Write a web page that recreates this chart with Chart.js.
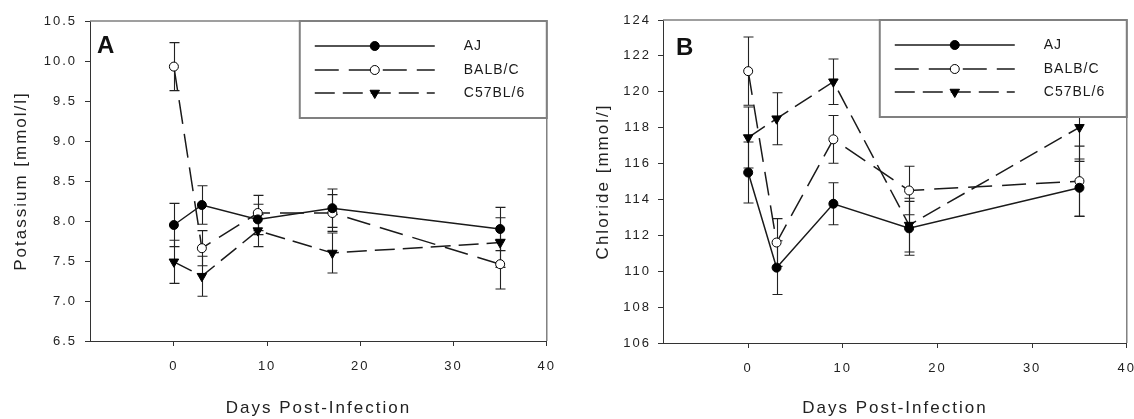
<!DOCTYPE html>
<html lang="en">
<head>
<meta charset="UTF-8">
<title>Potassium and Chloride after infection</title>
<script src="https://cdn.jsdelivr.net/npm/chart.js"></script>
<style>
  body { margin: 0; background: #fff; width: 1134px; height: 419px; overflow: hidden; position: relative; }
  #left { position: absolute; left: 0; top: 0; }
  #right { position: absolute; left: 567px; top: 0; }
</style>
</head>
<body>
<canvas id="left" width="567" height="419"></canvas>
<canvas id="right" width="580" height="419"></canvas>
<script>
// sampling days (x) and strain names
const days = [0, 3, 9, 17, 35];
const strains = ['AJ', 'BALB/C', 'C57BL/6'];

// potassium, mmol/l (mean and error)
const kAJ = [7.95, 8.20, 8.02, 8.16, 7.90];
const kAJErr = [0.27, 0.24, 0.19, 0.24, 0.27];
const kBALB = [9.93, 7.66, 8.10, 8.10, 7.46];
const kBALBErr = [0.30, 0.22, 0.22, 0.23, 0.31];
const kC57 = [7.49, 7.31, 7.88, 7.60, 7.73];
const kC57Err = [0.27, 0.25, 0.20, 0.25, 0.31];

// chloride, mmol/l
const clAJ = [115.5, 110.2, 113.76, 112.39, 114.65];
const clAJErr = [1.7, 1.5, 1.17, 1.5, 1.6];
const clBALB = [121.15, 111.6, 117.35, 114.5, 115.02];
const clBALBErr = [1.9, 1.33, 1.33, 1.35, 1.95];
const clC57 = [117.45, 118.5, 120.56, 112.57, 118.02];
const clC57Err = [1.7, 1.45, 1.27, 1.5, 1.9];

const FONT = "'Liberation Sans', Arial, sans-serif";
const INK = '#1a1a1a';

const styles = [
    {dash: [], point: 'circle', fill: '#000', radius: 4.5, rotation: 0},
    {dash: [24, 10], point: 'circle', fill: '#fff', radius: 4.5, rotation: 0},
    {dash: [20, 8], point: 'triangle', fill: '#000', radius: 5.5, rotation: 180}
];

// error bars, frame, legend box and panel letter
const panelDecor = {
    id: 'panelDecor',
    beforeDraw(chart) {
        chart.ctx.letterSpacing = '2px';
    },
    beforeDatasetsDraw(chart, args, opts) {
        const ctx = chart.ctx;
        const xs = chart.scales.x, ys = chart.scales.y;
        ctx.save();
        ctx.strokeStyle = '#222';
        ctx.lineWidth = 1.1;
        chart.data.datasets.forEach((ds, i) => {
            const errs = opts.errors[i];
            ds.data.forEach((p, j) => {
                const x = Math.round(xs.getPixelForValue(p.x)) + 0.5;
                const top = ys.getPixelForValue(p.y + errs[j]);
                const bot = ys.getPixelForValue(p.y - errs[j]);
                ctx.beginPath();
                ctx.moveTo(x, top); ctx.lineTo(x, bot);
                ctx.moveTo(x - 5, top); ctx.lineTo(x + 5, top);
                ctx.moveTo(x - 5, bot); ctx.lineTo(x + 5, bot);
                ctx.stroke();
            });
        });
        ctx.restore();
    },
    afterDatasetsDraw(chart, args, opts) {
        const ctx = chart.ctx;
        const a = chart.chartArea;
        ctx.save();
        // top and right frame
        ctx.strokeStyle = '#808080';
        ctx.lineWidth = 1.5;
        ctx.beginPath();
        ctx.moveTo(a.left, a.top); ctx.lineTo(a.right, a.top); ctx.lineTo(a.right, a.bottom);
        ctx.stroke();

        // legend box
        const bx = a.right - 247, by = a.top, bw = 247, bh = 97;
        ctx.fillStyle = '#fff';
        ctx.fillRect(bx, by, bw, bh);
        ctx.strokeStyle = '#808080';
        ctx.lineWidth = 2;
        ctx.strokeRect(bx, by, bw, bh);
        ctx.letterSpacing = '1px';
        ctx.font = '14px ' + FONT;
        ctx.textBaseline = 'middle';
        const rows = [25, 49, 72];
        strains.forEach((name, i) => {
            const st = styles[i];
            const y = by + rows[i];
            ctx.strokeStyle = INK;
            ctx.lineWidth = 1.5;
            ctx.setLineDash(st.dash);
            ctx.beginPath();
            ctx.moveTo(a.right - 232, y); ctx.lineTo(a.right - 112, y);
            ctx.stroke();
            ctx.setLineDash([]);
            ctx.fillStyle = st.fill;
            ctx.strokeStyle = '#000';
            ctx.lineWidth = 1;
            Chart.helpers.drawPoint(ctx, {pointStyle: st.point, radius: st.radius, rotation: st.rotation, borderWidth: 1}, a.right - 172, y);
            ctx.fillStyle = INK;
            ctx.fillText(name, a.right - 83, y);
        });

        // panel letter
        ctx.letterSpacing = '0px';
        ctx.font = 'bold 24px ' + FONT;
        ctx.textBaseline = 'alphabetic';
        ctx.fillStyle = '#111';
        ctx.fillText(opts.letter, a.left + opts.letterDx, opts.letterY);
        ctx.restore();
    }
};

function makeDatasets(series) {
    return series.map((vals, i) => ({
        label: strains[i],
        data: days.map((d, j) => ({x: d, y: vals[j]})),
        borderColor: INK,
        borderWidth: 1.5,
        borderDash: styles[i].dash,
        pointStyle: styles[i].point,
        pointRadius: styles[i].radius,
        pointRotation: styles[i].rotation,
        pointBackgroundColor: styles[i].fill,
        pointBorderColor: '#000',
        pointBorderWidth: 1,
        tension: 0
    }));
}

function makeChart(id, o) {
    return new Chart(document.getElementById(id), {
        type: 'line',
        data: {datasets: makeDatasets(o.series)},
        plugins: [panelDecor],
        options: {
            responsive: false,
            animation: false,
            layout: {padding: {left: 0, top: o.top, right: o.right, bottom: 0}},
            plugins: {
                legend: {display: false},
                tooltip: {enabled: false},
                panelDecor: {errors: o.errors, letter: o.letter, letterDx: o.letterDx, letterY: o.letterY}
            },
            scales: {
                x: {
                    type: 'linear',
                    min: -9,
                    max: 40,
                    afterBuildTicks: s => { s.ticks = s.ticks.filter(t => t.value >= 0 && t.value % 10 === 0); },
                    afterFit: s => { s.height = o.xHeight; },
                    ticks: {stepSize: 10, color: '#222', padding: 13, maxRotation: 0, font: {family: FONT, size: 13}},
                    grid: {drawOnChartArea: false, tickLength: 5, color: '#333'},
                    border: {color: '#333', width: 1},
                    title: {display: true, text: 'Days Post-Infection', color: '#222', padding: {top: 0, bottom: 0}, font: {family: FONT, size: 17}}
                },
                y: {
                    min: o.yMin,
                    max: o.yMax,
                    afterFit: s => { s.width = o.yWidth; },
                    ticks: {stepSize: o.yStep, color: '#222', padding: o.yPad, callback: o.fmt, font: {family: FONT, size: 13}},
                    grid: {drawOnChartArea: false, tickLength: 5, color: '#333'},
                    border: {color: '#333', width: 1},
                    title: {display: true, text: o.yTitle, color: '#222', padding: {top: o.titlePad, bottom: 0}, font: {family: FONT, size: 17}}
                }
            }
        }
    });
}

makeChart('left', {
    series: [kAJ, kBALB, kC57],
    errors: [kAJErr, kBALBErr, kC57Err],
    yMin: 6.5, yMax: 10.5, yStep: 0.5, fmt: v => v.toFixed(1),
    yTitle: 'Potassium [mmol/l]',
    top: 21, right: 19, yWidth: 90, xHeight: 78, yPad: 8, titlePad: 11,
    letter: 'A', letterDx: 7, letterY: 53
});

makeChart('right', {
    series: [clAJ, clBALB, clC57],
    errors: [clAJErr, clBALBErr, clC57Err],
    yMin: 106, yMax: 124, yStep: 2, fmt: v => String(v),
    yTitle: 'Chloride [mmol/]',
    top: 20, right: 19, yWidth: 96, xHeight: 76, yPad: 7, titlePad: 26,
    letter: 'B', letterDx: 13, letterY: 55
});
</script>
</body>
</html>
